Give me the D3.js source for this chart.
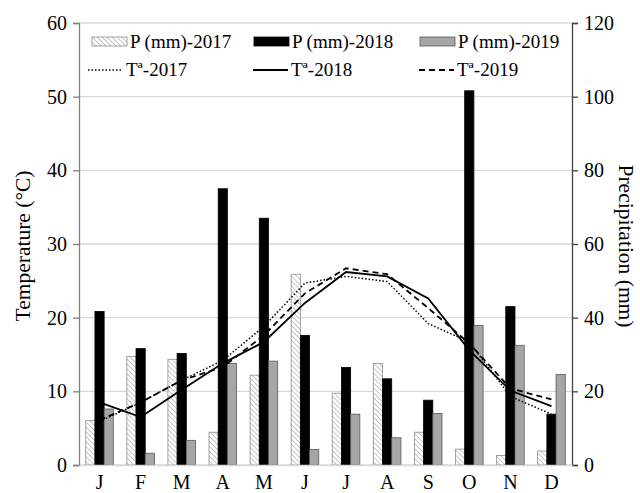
<!DOCTYPE html>
<html>
<head>
<meta charset="utf-8">
<script src="https://cdn.jsdelivr.net/npm/d3@7"></script>
<style>
  body { margin: 0; background: #fff; }
  svg { display: block; }
</style>
</head>
<body>
<script>
// month labels and series
const months = ['J', 'F', 'M', 'A', 'M', 'J', 'J', 'A', 'S', 'O', 'N', 'D'];
const years = ['2017', '2018', '2019'];

// precipitation (mm), right axis
const precip2017 = [12.1, 29.5, 28.7, 8.9, 24.4, 51.8, 19.5, 27.6, 8.9, 4.3, 2.6, 3.8];
const precip2018 = [41.7, 31.6, 30.3, 75.0, 67.0, 35.2, 26.5, 23.4, 17.6, 101.6, 43.0, 13.8];
const precip2019 = [15.2, 3.2, 6.7, 27.6, 28.2, 4.2, 13.8, 7.4, 14.0, 37.9, 32.5, 24.6];

// temperature (°C), left axis
const temp2017 = [5.9, 8.5, 11.5, 14.2, 18.8, 24.7, 25.6, 24.9, 19.2, 16.7, 9.3, 6.9];
const temp2018 = [8.5, 6.5, 10.2, 13.8, 16.7, 22.0, 26.2, 25.6, 22.6, 15.6, 10.1, 8.0];
const temp2019 = [6.1, 8.5, 11.5, 13.3, 17.6, 23.3, 26.7, 25.9, 21.3, 16.5, 10.4, 8.9];

const tempTicks = [0, 10, 20, 30, 40, 50, 60];
const precipTicks = [0, 20, 40, 60, 80, 100, 120];

const width = 640, height = 493;
const margin = { left: 79, right: 572, top: 23, bottom: 465 };
const serif = "'Liberation Serif', 'Times New Roman', serif";

const svg = d3.select('body').append('svg')
    .attr('width', width)
    .attr('height', height)
    .style('font-family', serif);

// hatch for the 2017 bars
const defs = svg.append('defs');
defs.append('pattern')
    .attr('id', 'hatch')
    .attr('patternUnits', 'userSpaceOnUse')
    .attr('width', 3.5)
    .attr('height', 3.5)
    .attr('patternTransform', 'rotate(-45)')
  .call(p => {
      p.append('rect').attr('width', 3.5).attr('height', 3.5).attr('fill', '#fff');
      p.append('line').attr('x1', 0).attr('y1', 0).attr('x2', 0).attr('y2', 3.5)
          .attr('stroke', '#b8b8b8').attr('stroke-width', 1.6);
  });

const x = d3.scaleBand().domain(d3.range(12)).range([margin.left, margin.right]);
const xBar = d3.scaleBand().domain(years).range([-13.8, 13.8]);
const yT = d3.scaleLinear().domain([0, 60]).range([margin.bottom, margin.top]);
const yP = d3.scaleLinear().domain([0, 120]).range([margin.bottom, margin.top]);

// gridlines
svg.append('g')
    .selectAll('line')
    .data(tempTicks)
    .join('line')
        .attr('x1', margin.left).attr('x2', margin.right)
        .attr('y1', d => yT(d)).attr('y2', d => yT(d))
        .attr('stroke', '#d9d9d9')
        .attr('stroke-width', 1.3);

// bars
const barStyle = {
    '2017': { fill: 'url(#hatch)', stroke: '#8c8c8c' },
    '2018': { fill: '#000', stroke: '#000' },
    '2019': { fill: '#a6a6a6', stroke: '#595959' }
};
const precipSeries = [
    { year: '2017', values: precip2017 },
    { year: '2018', values: precip2018 },
    { year: '2019', values: precip2019 }
];
precipSeries.forEach(s => {
    svg.append('g')
        .selectAll('rect')
        .data(s.values)
        .join('rect')
            .attr('x', (d, i) => x(i) + x.bandwidth() / 2 + xBar(s.year))
            .attr('width', xBar.bandwidth())
            .attr('y', d => yP(d))
            .attr('height', d => yP(0) - yP(d))
            .attr('fill', barStyle[s.year].fill)
            .attr('stroke', barStyle[s.year].stroke)
            .attr('stroke-width', 0.8);
});

// temperature lines
const lineStyle = {
    '2017': '1.5,2',
    '2018': null,
    '2019': '6,4'
};
const tempSeries = [
    { year: '2017', values: temp2017 },
    { year: '2018', values: temp2018 },
    { year: '2019', values: temp2019 }
];
const line = d3.line()
    .x((d, i) => x(i) + x.bandwidth() / 2)
    .y(d => yT(d));
tempSeries.forEach(s => {
    svg.append('path')
        .datum(s.values)
        .attr('d', line)
        .attr('fill', 'none')
        .attr('stroke', '#000')
        .attr('stroke-width', s.year == '2017' ? 1.5 : 1.8)
        .attr('stroke-dasharray', lineStyle[s.year]);
});

// axes
const leftAxis = svg.append('g')
    .attr('transform', `translate(${margin.left},0)`)
    .call(d3.axisLeft(yT).tickValues(tempTicks).tickSize(6).tickPadding(6));
const rightAxis = svg.append('g')
    .attr('transform', `translate(${margin.right},0)`)
    .call(d3.axisRight(yP).tickValues(precipTicks).tickSize(6).tickPadding(6));
const bottomAxis = svg.append('g')
    .attr('transform', `translate(0,${margin.bottom})`)
    .call(d3.axisBottom(x).tickFormat(i => months[i]).tickSize(0).tickPadding(10));

[leftAxis, rightAxis, bottomAxis].forEach(a => {
    a.selectAll('text')
        .style('font-family', serif)
        .style('font-size', '20px')
        .attr('fill', '#000');
});
leftAxis.selectAll('path, line').attr('stroke', '#808080').attr('stroke-width', 1.3);
rightAxis.selectAll('path, line').attr('stroke', '#404040').attr('stroke-width', 1.3);
bottomAxis.select('path').attr('stroke', '#d9d9d9').attr('stroke-width', 1.3);

// axis titles
svg.append('text')
    .attr('transform', 'translate(30,246) rotate(-90)')
    .attr('text-anchor', 'middle')
    .style('font-family', serif)
    .style('font-size', '21.5px')
    .text('Temperature (°C)');
svg.append('text')
    .attr('transform', 'translate(619,246) rotate(90)')
    .attr('text-anchor', 'middle')
    .style('font-family', serif)
    .style('font-size', '21.5px')
    .text('Precipitation (mm)');

// legend
const legendBars = [
    { x: 92, label: 'P (mm)-2017', year: '2017' },
    { x: 254, label: 'P (mm)-2018', year: '2018' },
    { x: 420, label: 'P (mm)-2019', year: '2019' }
];
const legendLines = [
    { x: 88, label: 'Tª-2017', year: '2017' },
    { x: 253, label: 'Tª-2018', year: '2018' },
    { x: 419, label: 'Tª-2019', year: '2019' }
];
const legend = svg.append('g');
legendBars.forEach(d => {
    legend.append('rect')
        .attr('x', d.x).attr('y', 37)
        .attr('width', 35).attr('height', 9)
        .attr('fill', barStyle[d.year].fill)
        .attr('stroke', barStyle[d.year].stroke)
        .attr('stroke-width', 0.8);
    legend.append('text')
        .attr('x', d.x + 38).attr('y', 48)
        .style('font-family', serif)
        .style('font-size', '19px')
        .text(d.label);
});
legendLines.forEach(d => {
    legend.append('line')
        .attr('x1', d.x).attr('x2', d.x + 35)
        .attr('y1', 70).attr('y2', 70)
        .attr('stroke', '#000')
        .attr('stroke-width', d.year == '2017' ? 1.5 : 1.8)
        .attr('stroke-dasharray', lineStyle[d.year]);
    legend.append('text')
        .attr('x', d.x + 38).attr('y', 76)
        .style('font-family', serif)
        .style('font-size', '19px')
        .text(d.label);
});
</script>
</body>
</html>
